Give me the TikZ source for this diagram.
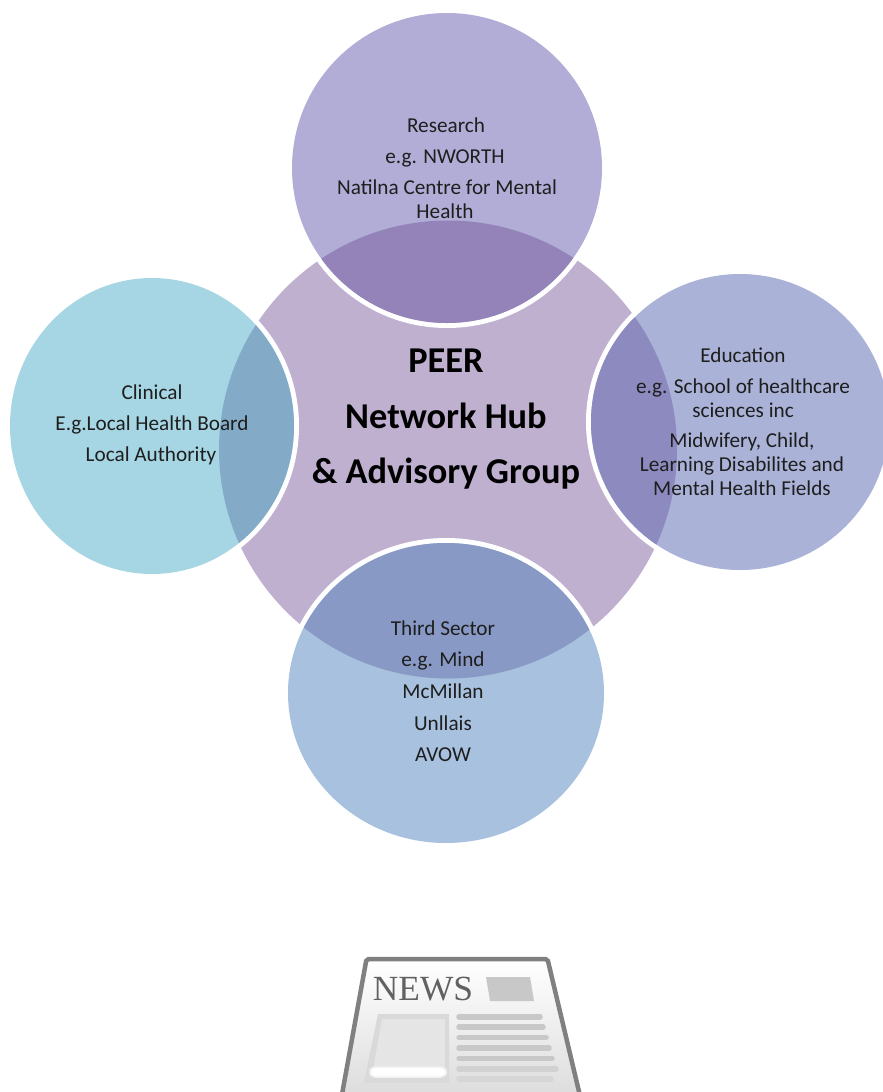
\documentclass[tikz,border=0pt]{standalone}
\usepackage{fontspec}
\setmainfont{Carlito}
\newfontfamily\newsfont{Liberation Serif}
\definecolor{hubc}{HTML}{BFB0D0}
\definecolor{topc}{HTML}{B2ADD6}
\definecolor{topo}{HTML}{9383B9}
\definecolor{leftc}{HTML}{A6D6E3}
\definecolor{lefto}{HTML}{83ABC8}
\definecolor{rightc}{HTML}{AAB2D8}
\definecolor{righto}{HTML}{8C8ABF}
\definecolor{botc}{HTML}{A8C1DE}
\definecolor{boto}{HTML}{8899C5}
\definecolor{inkc}{HTML}{1E1E1E}
\definecolor{newsb}{HTML}{808080}
\definecolor{newsg}{HTML}{C8C8C8}
\tikzset{x=1bp,y=-1bp,
  small/.style={text=inkc,font=\fontsize{21.3}{21.3}\selectfont,inner sep=0pt,anchor=base},
  big/.style={text=black,font=\fontsize{36.5}{36.5}\selectfont\bfseries,inner sep=0pt,anchor=base},
  rule/.style={line width=5.5bp,line cap=round,draw=newsg}}
\newcommand{\hubpath}{(448,449.5) circle [radius=229]}
\begin{document}
\begin{tikzpicture}
\useasboundingbox (0,0) rectangle (883,1092);
\clip (0,0) rectangle (883,1092);
% hub
\fill[hubc] \hubpath;
% white halos
\fill[white] (447,168) ellipse [x radius=160,y radius=160];
\fill[white] (152,426) ellipse [x radius=147,y radius=153];
\fill[white] (740,422) ellipse [x radius=154,y radius=153];
\fill[white] (446,693) ellipse [x radius=163,y radius=155];
% satellites
\fill[topc] (447,168) ellipse [x radius=155,y radius=155];
\fill[leftc] (152,426) ellipse [x radius=142,y radius=148];
\fill[rightc] (740,422) ellipse [x radius=149,y radius=148];
\fill[botc] (446,693) ellipse [x radius=158,y radius=150];
% overlaps
\begin{scope}
\clip \hubpath;
\fill[topo] (447,168) ellipse [x radius=155,y radius=155];
\fill[lefto] (152,426) ellipse [x radius=142,y radius=148];
\fill[righto] (740,422) ellipse [x radius=149,y radius=148];
\fill[boto] (446,693) ellipse [x radius=158,y radius=150];
\end{scope}
% texts
\node[big] (hub1) at (446,372) {PEER};
\node[big] (hub2) at (446,428) {Network Hub};
\node[big] (hub3) at (446,483) {\&\ Advisory Group};
\node[small] (t1) at (446,132) {Research};
\node[small] (t2) at (445,163) {e.g. NWORTH};
\node[small] (t3) at (447,194) {Natilna Centre for Mental};
\node[small] (t4) at (445,218) {Health};
\node[small] (l1) at (152,399) {Clinical};
\node[small] (l2) at (152,430) {E.g.Local Health Board};
\node[small] (l3) at (151,461) {Local Authority};
\node[small] (r1) at (743,362) {Education};
\node[small] (r2) at (743,393) {e.g. School of healthcare};
\node[small] (r3) at (743,417) {sciences inc};
\node[small] (r4) at (742,447) {Midwifery, Child,};
\node[small] (r5) at (742,471) {Learning Disabilites and};
\node[small] (r6) at (742,495) {Mental Health Fields};
\node[small] (b1) at (443,635) {Third Sector};
\node[small] (b2) at (443,666) {e.g. Mind};
\node[small] (b3) at (443,698) {McMillan};
\node[small] (b4) at (443,730) {Unllais};
\node[small] (b5) at (443,761) {AVOW};
% newspaper
\fill[top color=white,bottom color=black!14,draw=newsb,line width=4.5bp,rounded corners=2bp]
  (366.5,959) -- (547.5,959) -- (581,1100) -- (341,1100) -- cycle;
\node[text=black!62,font=\newsfont\fontsize{35.5}{35.5}\selectfont,inner sep=0pt,anchor=center] (news) at (423,989.5) {NEWS};
\fill[newsg] (486,977) -- (530,977) -- (534,1001) -- (490,1001) -- cycle;
\fill[black!15] (378,1014) -- (449,1014) -- (449,1083) -- (364,1083) -- cycle;
\fill[black!10] (382,1019) -- (445,1019) -- (445,1075) -- (372,1075) -- cycle;
\fill[white,rounded corners=5bp,draw=black!5,line width=1.5bp] (370,1067) rectangle (446,1077);
\draw[rule] (459,1017) -- (540,1017);
\draw[rule] (459,1027) -- (543,1027);
\draw[rule] (459,1037.5) -- (546,1037.5);
\draw[rule] (459,1048) -- (549,1048);
\draw[rule] (459,1058.5) -- (552,1058.5);
\draw[rule,draw=black!18] (459,1069) -- (556,1069);
\draw[rule,draw=black!16] (459,1079) -- (551,1079);
\end{tikzpicture}
\end{document}
